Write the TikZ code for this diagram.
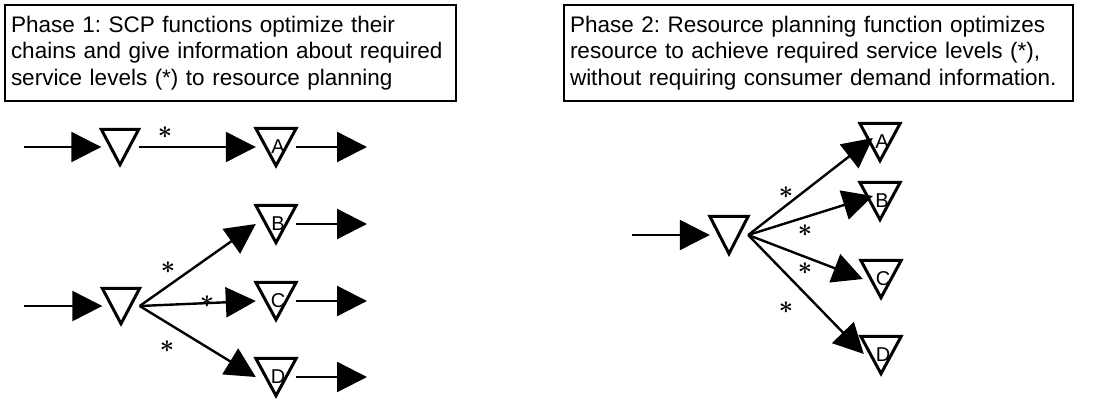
\documentclass[tikz,border=0pt]{standalone}
\usepackage{fontspec}
\setmainfont{Liberation Sans}
\usetikzlibrary{arrows.meta,calc}
\frenchspacing
\tikzset{
  tribox/.style={rectangle, draw=none, inner sep=0pt, font=\fontsize{20}{20}\selectfont},
  srcbox/.style={tribox, minimum width=37pt, minimum height=35pt},
  lblbox/.style={tribox, minimum width=40pt, minimum height=37pt},
  triline/.style={line width=3pt, line join=miter},
  arr/.style={line width=2.4pt, -{Triangle[length=30pt,width=30pt]}},
  starlbl/.style={inner sep=0pt, font=\fontsize{30}{30}\selectfont\boldmath},
  phasebox/.style={draw, line width=2pt, anchor=north west, align=left, inner xsep=6pt, inner ysep=0pt, font=\fontsize{22.5}{26.5}\selectfont, minimum height=96pt}
}
\begin{document}
\begin{tikzpicture}[x=1pt,y=-1pt]
\useasboundingbox (0,0) rectangle (1112,399);
% text boxes
\node[phasebox, text width=439pt] (P1) at (4,4) {Phase 1: SCP functions optimize their\\chains and give information about required\\service levels (*) to resource planning};
\node[phasebox, text width=497pt] (P2) at (563,4) {Phase 2: Resource planning function optimizes\\resource to achieve required service levels (*),\\without requiring consumer demand information.};

% ---------- Phase 1, top chain
\coordinate (in1) at (24,147);
\node[srcbox] (S1) at (120,147) {};
\node[lblbox] (A1) at (276,147) {\hspace*{4pt}A};
\coordinate (o1) at (367,147);
% ---------- Phase 1, bottom chain
\coordinate (in2) at (24,306);
\node[srcbox] (S2) at (121,306) {};
\node[lblbox] (B1) at (276,224) {\hspace*{4pt}B};
\node[lblbox] (C1) at (276,301) {\hspace*{4pt}C};
\node[lblbox] (D1) at (276,377) {\hspace*{4pt}D};
\coordinate (oB) at (367,224);
\coordinate (oC) at (367,301);
\coordinate (oD) at (367,377);
% ---------- Phase 2
\coordinate (in3) at (632,235);
\node[srcbox, minimum width=38pt, minimum height=37pt] (S3) at (729,235) {};
\node[lblbox] (A2) at (880,142) {\hspace*{4pt}A};
\node[lblbox] (B2) at (880,201) {\hspace*{4pt}B};
\node[lblbox] (C2) at (881,279) {\hspace*{4pt}C};
\node[lblbox] (D2) at (881,355) {\hspace*{4pt}D};

% triangles
\foreach \n in {S1,A1,S2,B1,C1,D1,S3,A2,B2,C2,D2}
  \draw[triline] (\n.north west) -- (\n.north east) -- (\n.south) -- cycle;

% connectors phase 1
\draw[arr] (in1) -- (S1.west);
\draw[arr] (S1.east) -- (A1.west);
\draw[arr] (A1.east) -- (o1);
\draw[arr] (in2) -- (S2.west);
\draw[arr] (S2.east) -- (B1.west);
\draw[arr] (S2.east) -- (C1.west);
\draw[arr] (S2.east) -- (D1.west);
\draw[arr] (B1.east) -- (oB);
\draw[arr] (C1.east) -- (oC);
\draw[arr] (D1.east) -- (oD);
% connectors phase 2
\draw[arr] (in3) -- (S3.west);
\draw[arr] (S3.east) -- ($(A2.west)+(13,-4)$);
\draw[arr] (S3.east) -- ($(B2.west)+(13,-5)$);
\draw[arr] (S3.east) -- ($(C2.west)+(2,0)$);
\draw[arr] (S3.east) -- ($(D2.west)+(3,-1)$);

% stars
\node[starlbl] (s1) at (165,133) {$\ast$};
\node[starlbl] (s2) at (168,268) {$\ast$};
\node[starlbl] (s3) at (207,302) {$\ast$};
\node[starlbl] (s4) at (167,347) {$\ast$};
\node[starlbl] (s5) at (786,193) {$\ast$};
\node[starlbl] (s6) at (805,231) {$\ast$};
\node[starlbl] (s7) at (805,269) {$\ast$};
\node[starlbl] (s8) at (786,308) {$\ast$};
\end{tikzpicture}
\end{document}
